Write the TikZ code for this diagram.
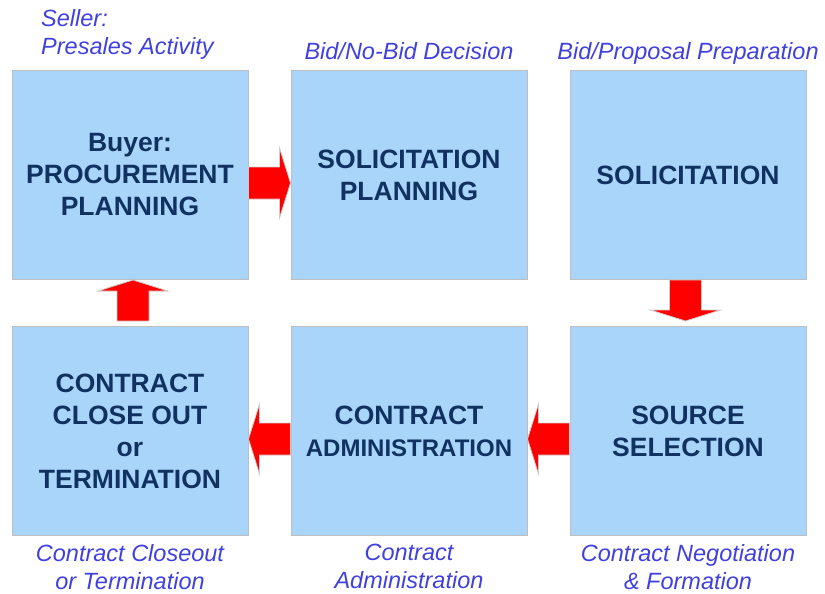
\documentclass[tikz,border=0pt]{standalone}
\usepackage{fontspec}
\setmainfont{Liberation Sans}
\usetikzlibrary{calc}
\definecolor{xblue}{RGB}{170,213,250}
\definecolor{xnavy}{RGB}{16,50,96}
\definecolor{xlabel}{RGB}{64,64,224}
\definecolor{xred}{RGB}{255,0,0}
\definecolor{xedge}{RGB}{190,190,190}

\newcommand\redarrow[2]{%
\coordinate (tl) at (#1);
\coordinate (tp) at (#2);
\coordinate (hb) at ($(tp)!11pt!(tl)$);
\filldraw[bigarrow] ($(tl)!16pt!90:(tp)$) -- ($(hb)!16pt!-90:(tl)$) -- ($(hb)!35pt!-90:(tl)$) -- (tp)
  -- ($(hb)!35pt!90:(tl)$) -- ($(hb)!16pt!90:(tl)$) -- ($(tl)!16pt!-90:(tp)$) -- cycle;}

\begin{document}
\begin{tikzpicture}[x=1pt, y=-1pt,
  box/.style={draw=xedge, line width=1pt, fill=xblue, minimum width=236pt, minimum height=209pt,
    text=xnavy, align=center, font=\bfseries\fontsize{26.5}{32}\selectfont},
  lbl/.style={text=xlabel, align=center, inner sep=0pt, font=\itshape\fontsize{23.5}{28}\selectfont},
  bigarrow/.style={fill=xred, draw=black!20, line width=0.8pt}]
\useasboundingbox (0,0) rectangle (825,594);
\def \s {279}
\def \t {256}
\node[box] at (130, 175) (buy) {Buyer:\\PROCUREMENT\\PLANNING};
\node[box] at (130+\s, 175) (solp) {SOLICITATION\\PLANNING};
\node[box] at (130+2*\s, 175) (sol) {SOLICITATION};
\node[box] at (130, 175+\t) (close) {CONTRACT\\CLOSE OUT\\or\\TERMINATION};
\node[box] at (130+\s, 175+\t) (adm) {CONTRACT\\{\fontsize{24}{32}\selectfont ADMINISTRATION}};
\node[box] at (130+2*\s, 175+\t) (src) {SOURCE\\SELECTION};
% seller side
\node[lbl, align=left, anchor=north west] at (41, 9.5) (seller) {Seller:\\Presales Activity};
\node[lbl, anchor=north] at (solp.north |- 0,42) (bid) {Bid/No-Bid Decision};
\node[lbl, anchor=north] at (sol.north |- 0,42) (prop) {Bid/Proposal Preparation};
\node[lbl, anchor=north] at (close.south |- 0,544) (closelbl) {Contract Closeout\\or Termination};
\node[lbl, anchor=north] at (adm.south |- 0,544) (admlbl) {Contract\\Administration};
\node[lbl, anchor=north] at (src.south |- 0,544) (neglbl) {Contract Negotiation\\\& Formation};
% arrows
\redarrow{$(buy.east)+(0,8)$}{$(solp.west)+(0,8)$}
\redarrow{$(sol.south)+(-2.5,0)$}{$(src.north)+(-2.5,-5)$}
\redarrow{$(src.west)+(0,8)$}{$(adm.east)+(0,8)$}
\redarrow{$(adm.west)+(0,8)$}{$(close.east)+(0,8)$}
\redarrow{$(close.north)+(3,-5)$}{$(buy.south)+(3,0)$}
\end{tikzpicture}
\end{document}
